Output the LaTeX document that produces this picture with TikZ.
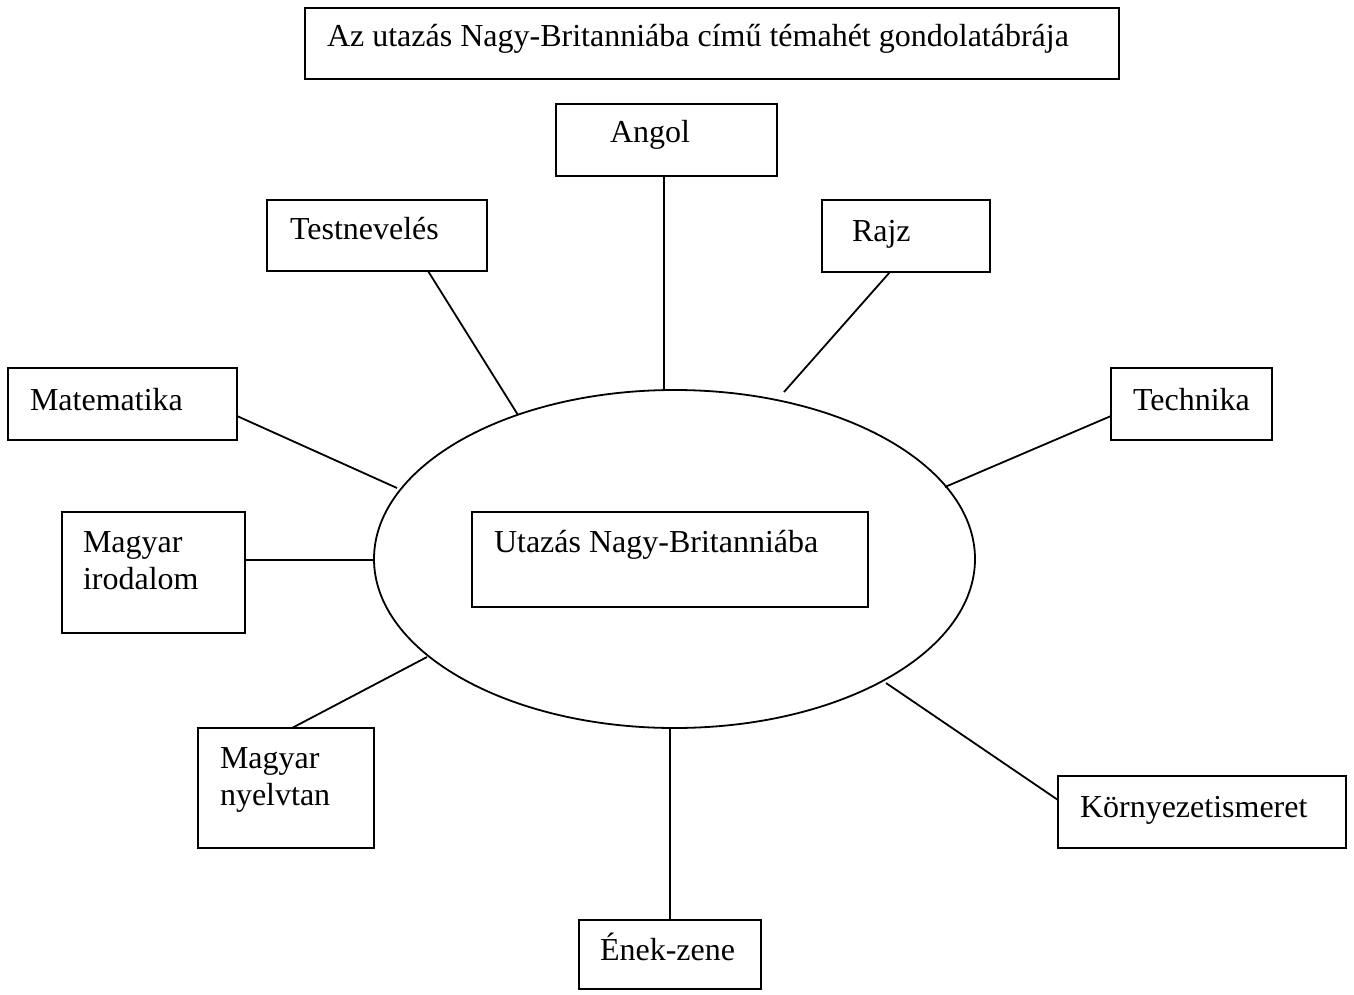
\documentclass[tikz,border=0pt]{standalone}
\usepackage{fontspec}
\setmainfont{Liberation Serif}
\usetikzlibrary{shapes.geometric}
\begin{document}
\begin{tikzpicture}[x=1pt,y=-1pt,
  box/.style={draw,line width=1.8pt,inner sep=0pt,outer sep=0pt},
  txt/.style={anchor=base west,inner sep=0pt,outer sep=0pt,font=\fontsize{32}{37}\selectfont},
  conn/.style={line width=1.8pt}]
\useasboundingbox (0,0) rectangle (1354,995);
% boxes
\draw[box] (305,8) rectangle (1119,79);
\node[txt] (ttitle) at (327,47) {Az utazás Nagy-Britanniába című témahét gondolatábrája};

\node[box,minimum width=221,minimum height=72,anchor=north west] (angol) at (556,104) {};
\node[txt] (tangol) at (610,143) {Angol};

\node[box,minimum width=220,minimum height=71,anchor=north west] (testn) at (267,200) {};
\node[txt] (ttestn) at (290,240) {Testnevelés};

\node[box,minimum width=168,minimum height=72,anchor=north west] (rajz) at (822,200) {};
\node[txt] (trajz) at (852,241) {Rajz};

\node[box,minimum width=229,minimum height=72,anchor=north west] (matek) at (8,368) {};
\node[txt] (tmatek) at (30,410) {Matematika};

\node[box,minimum width=161,minimum height=72,anchor=north west] (techn) at (1111,368) {};
\node[txt] (ttechn) at (1133,410) {Technika};

\node[box,minimum width=183,minimum height=121,anchor=north west] (irod) at (62,512) {};
\node[txt] (tirod) at (83,552) {\parbox[t]{300pt}{Magyar\\irodalom}};

\node[box,minimum width=176,minimum height=120,anchor=north west] (nyelv) at (198,728) {};
\node[txt] (tnyelv) at (220,768) {\parbox[t]{300pt}{Magyar\\nyelvtan}};

\node[box,minimum width=288,minimum height=72,anchor=north west] (korny) at (1058,776) {};
\node[txt] (tkorny) at (1080,817) {Környezetismeret};

\node[box,minimum width=182,minimum height=69,anchor=north west] (enek) at (579,920) {};
\node[txt] (tenek) at (600,960) {Ének-zene};

% ellipse
\node[draw,ellipse,line width=1.8pt,inner sep=0pt,outer sep=0pt,minimum width=601,minimum height=338] (ell) at (674.5,559) {};

\node[box,minimum width=396,minimum height=95,anchor=north west] (inner) at (472,512) {};
\node[txt] (tinner) at (494,552) {Utazás Nagy-Britanniába};

% connector end points
\coordinate (a1) at (664,176); \coordinate (a2) at (664,390);
\coordinate (b1) at (428,271); \coordinate (b2) at (518,415);
\coordinate (c1) at (890,272); \coordinate (c2) at (784,392);
\coordinate (d1) at (237,416); \coordinate (d2) at (397,488);
\coordinate (e1) at (1111,416); \coordinate (e2) at (945,487);
\coordinate (f1) at (245,560); \coordinate (f2) at (374,560);
\coordinate (g1) at (292,728); \coordinate (g2) at (427,657);
\coordinate (h1) at (1058,800); \coordinate (h2) at (886,683);
\coordinate (i1) at (670,920); \coordinate (i2) at (670,728);

\draw[conn] (a1) -- (a2);
\draw[conn] (b1) -- (b2);
\draw[conn] (c1) -- (c2);
\draw[conn] (d1) -- (d2);
\draw[conn] (e1) -- (e2);
\draw[conn] (f1) -- (f2);
\draw[conn] (g1) -- (g2);
\draw[conn] (h1) -- (h2);
\draw[conn] (i1) -- (i2);
\end{tikzpicture}
\end{document}
